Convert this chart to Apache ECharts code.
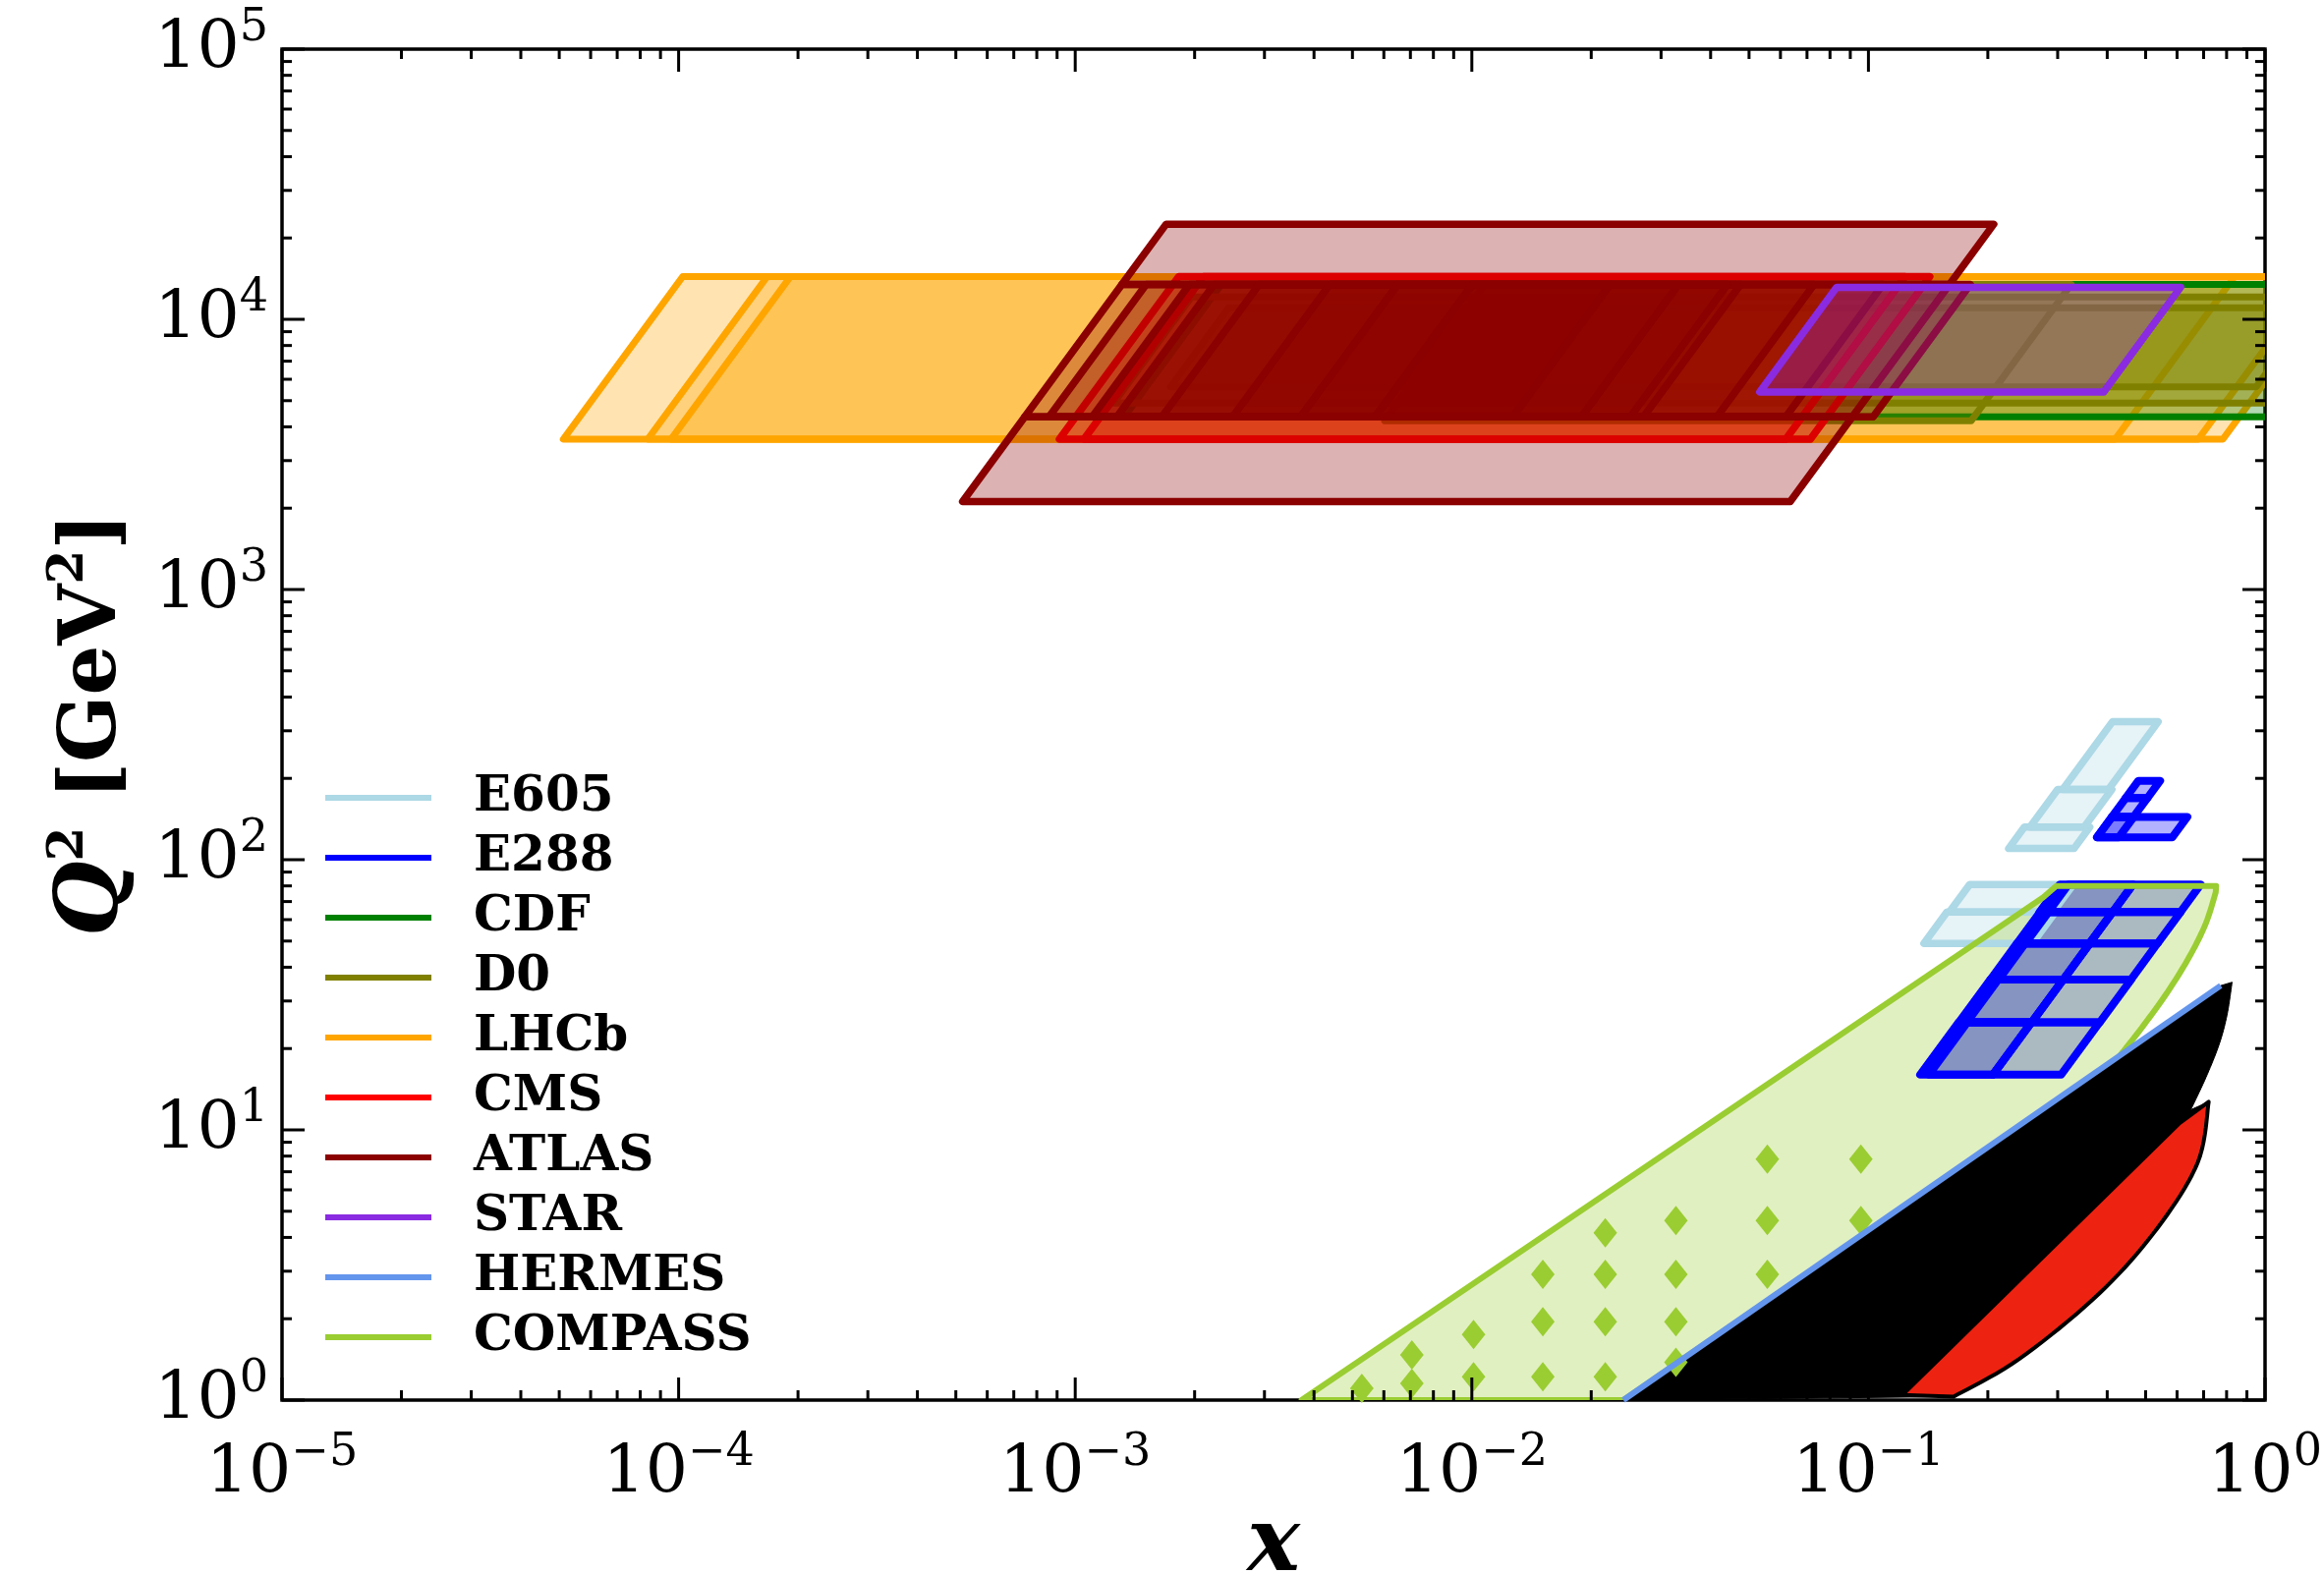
<!DOCTYPE html>
<html>
  <head>
    <meta charset="utf-8" />
    <title>x-Q2 coverage</title>
    <script src="https://cdn.jsdelivr.net/npm/echarts@6/dist/echarts.min.js"></script>
    <style>html,body{margin:0;padding:0;background:#fff;}</style>
  </head>
  <body>
    <div id="container" style="width: 2365px;height: 1602px;"></div>

    <script type="text/javascript">
    // boxes: [x left, x right (both at Q2 low), Q2 low, Q2 high]; x grows like Q inside a box
    var lhcbBoxes = [
        [5.12e-5, 0.783, 3600, 14400],
        [8.36e-5, 0.679, 3600, 14400],
        [9.57e-5, 0.419, 3600, 14400]
    ];
    var cdfBoxes = [
        [1.33e-3, 1.05, 4356, 13456]
    ];
    var d0Boxes = [
        [1.25e-3, 1.05, 4900, 12100],
        [1.74e-3, 0.95, 5625, 11025],
        [6.03e-3, 0.1815, 4210, 13456]
    ];
    var cmsBoxes = [
        [9.12e-4, 0.0619, 3600, 14400],
        [1.052e-3, 0.0714, 3600, 14400]
    ];
    var atlasBoxes = [
        [5.20e-4, 0.0635, 2116, 4356],
        [7.46e-4, 0.0911, 4356, 13456],
        [1.311e-3, 0.1601, 13456, 22500],
        [8.59e-4, 0.1028, 4356, 13456],
        [1.104e-3, 0.0619, 4356, 13456],
        [1.274e-3, 0.0415, 4356, 13456],
        [1.655e-3, 0.0271, 4356, 13456],
        [2.495e-3, 0.0189, 4356, 13456],
        [3.699e-3, 0.0127, 4356, 13456],
        [5.706e-3, 0.0251, 4356, 13456]
    ];
    var starBoxes = [
        [0.0532, 0.392, 5380, 13140]
    ];
    var e605Boxes = [
        [0.138, 0.259, 49, 64],
        [0.160, 0.292, 64, 81],
        [0.2257, 0.330, 110, 132],
        [0.2555, 0.350, 132, 182],
        [0.309, 0.403, 182, 324]
    ];
    var e288Boxes = [
        [0.135, 0.206, 16, 25], [0.206, 0.306, 16, 25],
        [0.169, 0.258, 25, 36], [0.258, 0.383, 25, 36],
        [0.203, 0.310, 36, 49], [0.310, 0.459, 36, 49],
        [0.237, 0.361, 49, 64], [0.361, 0.536, 49, 64],
        [0.270, 0.413, 64, 81], [0.413, 0.612, 64, 81],
        [0.142, 0.206, 16, 25], [0.177, 0.258, 25, 36],
        [0.213, 0.310, 36, 49], [0.249, 0.361, 49, 64],
        [0.284, 0.413, 64, 81],
        [0.377, 0.584, 121, 144],
        [0.377, 0.428, 121, 144],
        [0.411, 0.466, 144, 169],
        [0.445, 0.505, 169, 196]
    ];

    // outlines: [x, Q2]; "curve" parts are drawn smoothly through the read points
    var compassEdge = [[0.0241, 1], [0.00372, 1], [0.276, 72.6], [0.2975, 80], [0.753, 80]];
    var compassCurve = [[0.751, 75.7], [0.709, 58.1], [0.646, 44.0], [0.568, 32.4], [0.488, 23.8], [0.420, 18.0]];
    var compassPoints = [
        [0.00528, 1.106], [0.00706, 1.47], [0.00706, 1.153], [0.0101, 1.75], [0.0101, 1.22],
        [0.0151, 2.92], [0.0151, 1.95], [0.0151, 1.22],
        [0.0217, 4.16], [0.0217, 2.92], [0.0217, 1.95], [0.0217, 1.22],
        [0.0327, 4.62], [0.0327, 2.92], [0.0327, 1.95], [0.0327, 1.38],
        [0.0556, 7.80], [0.0556, 4.62], [0.0556, 2.92],
        [0.0957, 7.80], [0.0957, 4.62]
    ];
    var hermesLine = [[0.0241, 1], [0.773, 34.2]];
    var blackEdge = [[0.0241, 1], [0.773, 34.2]];
    var blackCurve = [[0.826, 35.2], [0.802, 26.6], [0.766, 20.7], [0.710, 15.66], [0.650, 11.88]];
    var redEdge = [[0.1218, 1.045], [0.609, 10.6]];
    var redCurve = [[0.721, 12.7], [0.677, 7.59], [0.536, 4.34], [0.382, 2.48], [0.240, 1.42], [0.164, 1.03]];

    var legendNames = ['E605', 'E288', 'CDF', 'D0', 'LHCb', 'CMS', 'ATLAS', 'STAR', 'HERMES', 'COMPASS'];
    var legendColors = ['#add8e6', '#0000ff', '#008000', '#808000', '#ffa500', '#ff0000', '#8b0000', '#8a2be2', '#6495ed', '#9acd32'];

    var xMajor = [1e-5, 1e-4, 1e-3, 1e-2, 1e-1, 1];
    var yMajor = [1, 10, 100, 1e3, 1e4, 1e5];

    function tickList(majors) {
        var out = [];
        for (var i = 0; i < majors.length; i++) {
            out.push([majors[i], 1]);
            if (i < majors.length - 1) {
                for (var m = 2; m <= 9; m++) out.push([majors[i] * m, 0]);
            }
        }
        return out;
    }
    var xTicks = tickList(xMajor);
    var yTicks = tickList(yMajor);

    function rgba(hex, a) {
        var r = parseInt(hex.slice(1, 3), 16), g = parseInt(hex.slice(3, 5), 16), b = parseInt(hex.slice(5, 7), 16);
        return 'rgba(' + r + ',' + g + ',' + b + ',' + a + ')';
    }

    // catmull-rom through pixel points, only used for drawing the curved edges
    function smoothPx(p) {
        var out = [p[0]];
        for (var i = 0; i < p.length - 1; i++) {
            var p0 = p[i - 1] || p[i], p1 = p[i], p2 = p[i + 1], p3 = p[i + 2] || p[i + 1];
            for (var s = 1; s <= 10; s++) {
                var t = s / 10, t2 = t * t, t3 = t2 * t;
                out.push([0, 1].map(function (d) {
                    return 0.5 * (2 * p1[d] + (-p0[d] + p2[d]) * t + (2 * p0[d] - 5 * p1[d] + 4 * p2[d] - p3[d]) * t2 + (-p0[d] + 3 * p1[d] - 3 * p2[d] + p3[d]) * t3);
                }));
            }
        }
        return out;
    }

    // mode: 'both' | 'fill' | 'line'
    function boxSeries(name, boxes, color, lw, mode) {
        mode = mode || 'both';
        return {
            name: name,
            type: 'custom',
            clip: true,
            itemStyle: { color: color },
            data: boxes,
            encode: { x: [0, 1], y: [2, 3] },
            renderItem: function (params, api) {
                var x0 = api.value(0), x1 = api.value(1), q0 = api.value(2), q1 = api.value(3);
                var k = Math.sqrt(q1 / q0);
                return {
                    type: 'polygon',
                    shape: { points: [api.coord([x0, q0]), api.coord([x1, q0]), api.coord([x1 * k, q1]), api.coord([x0 * k, q1])] },
                    style: {
                        fill: mode === 'line' ? 'none' : rgba(color, 0.3),
                        stroke: mode === 'fill' ? 'none' : color,
                        lineWidth: lw,
                        lineJoin: 'round'
                    }
                };
            }
        };
    }

    // parts: list of [points, smooth]
    function regionSeries(name, parts, fill, stroke, lw) {
        return {
            name: name,
            type: 'custom',
            clip: true,
            itemStyle: { color: stroke === 'none' ? fill : stroke },
            data: [parts[0][0][0]],
            renderItem: function (params, api) {
                var pts = [];
                parts.forEach(function (part) {
                    var px = part[0].map(function (p) { return api.coord(p); });
                    pts = pts.concat(part[1] ? smoothPx(px) : px);
                });
                return {
                    type: 'polygon',
                    shape: { points: pts },
                    style: { fill: fill, stroke: stroke, lineWidth: lw, lineJoin: 'round' }
                };
            }
        };
    }

    function tickSeries(list, isX) {
        return {
            type: 'custom',
            silent: true,
            z: 10,
            data: list.map(function (t) { return isX ? [t[0], 1] : [1e-5, t[0]]; }),
            renderItem: function (params, api) {
                var cs = params.coordSys;
                var len = list[params.dataIndex][1] ? 23 : 10;
                var st = { stroke: '#000', lineWidth: 3 };
                if (isX) {
                    var px = api.coord([list[params.dataIndex][0], 1])[0];
                    return { type: 'group', children: [
                        { type: 'line', shape: { x1: px, y1: cs.y + cs.height, x2: px, y2: cs.y + cs.height - len }, style: st },
                        { type: 'line', shape: { x1: px, y1: cs.y, x2: px, y2: cs.y + len }, style: st }
                    ] };
                }
                var py = api.coord([1e-5, list[params.dataIndex][0]])[1];
                return { type: 'group', children: [
                    { type: 'line', shape: { x1: cs.x, y1: py, x2: cs.x + len, y2: py }, style: st },
                    { type: 'line', shape: { x1: cs.x + cs.width, y1: py, x2: cs.x + cs.width - len, y2: py }, style: st }
                ] };
            }
        };
    }

    function expLabel(v) {
        var e = Math.round(Math.log10(v));
        return '{b|10}{s|' + (e < 0 ? '\u2212' + (-e) : e) + '}';
    }
    var labelRich = {
        b: { fontFamily: 'DejaVu Serif', fontSize: 68, lineHeight: 70, color: '#000' },
        s: { fontFamily: 'DejaVu Serif', fontSize: 46, lineHeight: 48, padding: [0, 0, 42, 0], color: '#000' }
    };

    var compassParts = [[compassEdge, false], [compassCurve, true]];

    var dom = document.getElementById('container');
    var myChart = echarts.init(dom);
    var option;
    option = {
        animation: false,
        backgroundColor: '#fff',
        grid: {
            left: 287, right: 60, top: 50, bottom: 177,
            show: true, borderColor: '#000', borderWidth: 3.5,
            outerBoundsMode: 'none'
        },
        legend: {
            orient: 'vertical',
            left: 326,
            top: 782,
            itemWidth: 108,
            itemHeight: 6,
            itemGap: 11,
            selectedMode: false,
            textStyle: { fontFamily: 'DejaVu Serif', fontWeight: 'bold', fontSize: 50, lineHeight: 50, color: '#000', padding: [0, 0, 0, 38] },
            data: legendNames.map(function (n, i) {
                return { name: n, icon: 'rect', itemStyle: { color: legendColors[i], borderWidth: 0 } };
            })
        },
        xAxis: {
            type: 'log',
            logBase: 10,
            min: 1e-5,
            max: 1,
            splitNumber: 5,
            axisLine: { show: false },
            axisTick: { show: false },
            splitLine: { show: false },
            axisLabel: { margin: 40, formatter: expLabel, rich: labelRich },
            name: '{i|x}',
            nameLocation: 'middle',
            nameGap: 105,
            nameMoveOverlap: false,
            nameTextStyle: { rich: { i: { fontFamily: 'DejaVu Serif', fontStyle: 'italic', fontWeight: 'bold', fontSize: 90, color: '#000' } } }
        },
        yAxis: {
            type: 'log',
            logBase: 10,
            min: 1,
            max: 1e5,
            splitNumber: 5,
            axisLine: { show: false },
            axisTick: { show: false },
            splitLine: { show: false },
            axisLabel: { margin: 14, formatter: expLabel, rich: labelRich },
            name: '{q|Q}{s|2}{n| [GeV}{s|2}{n|]}',
            nameLocation: 'middle',
            nameRotate: 90,
            nameGap: 142,
            nameTextStyle: { rich: {
                q: { fontFamily: 'DejaVu Serif', fontStyle: 'italic', fontWeight: 'bold', fontSize: 88, lineHeight: 90, color: '#000' },
                n: { fontFamily: 'DejaVu Serif', fontWeight: 'bold', fontSize: 80, lineHeight: 90, color: '#000' },
                s: { fontFamily: 'DejaVu Serif', fontWeight: 'bold', fontSize: 50, lineHeight: 50, padding: [0, 0, 50, 0], color: '#000' }
            } }
        },
        series: [
            boxSeries('LHCb', lhcbBoxes, '#ffa500', 7),
            boxSeries('CDF', cdfBoxes, '#008000', 7),
            boxSeries('D0', d0Boxes, '#808000', 7),
            boxSeries('CMS', cmsBoxes, '#ff0000', 7.5),
            boxSeries('ATLAS', atlasBoxes, '#8b0000', 7.5),
            boxSeries('STAR', starBoxes, '#8a2be2', 7.5),
            boxSeries('E605', e605Boxes, '#add8e6', 7.5, 'fill'),
            boxSeries('E288', e288Boxes, '#0000ff', 8, 'fill'),
            regionSeries('COMPASS', compassParts, rgba('#9acd32', 0.3), 'none', 0),
            boxSeries('E605', e605Boxes, '#add8e6', 7.5, 'line'),
            boxSeries('E288', e288Boxes, '#0000ff', 8, 'line'),
            regionSeries('COMPASS', compassParts, 'none', '#9acd32', 6),
            {
                name: 'COMPASS',
                type: 'scatter',
                clip: true,
                symbol: 'diamond',
                symbolSize: [24, 30],
                itemStyle: { color: '#9acd32', opacity: 1 },
                data: compassPoints
            },
            regionSeries('black', [[blackEdge, false], [blackCurve, true], [redCurve, true]], '#000', '#000', 1),
            {
                name: 'HERMES',
                type: 'line',
                clip: true,
                showSymbol: false,
                symbol: 'none',
                itemStyle: { color: '#6495ed' },
                lineStyle: { color: '#6495ed', width: 6 },
                data: hermesLine
            },
            regionSeries('red', [[redEdge, false], [redCurve, true]], '#ee2211', '#000', 4),
            tickSeries(xTicks, true),
            tickSeries(yTicks, false)
        ]
    };
    myChart.setOption(option);

    window.addEventListener('resize', myChart.resize);
    </script>
  </body>
</html>
